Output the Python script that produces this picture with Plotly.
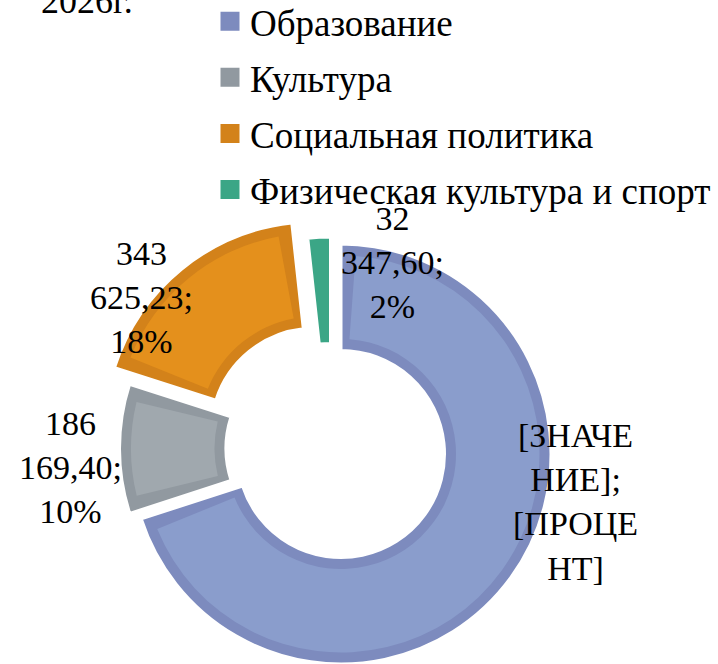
import plotly.graph_objects as go

# ---- data ----
categories = ["Образование", "Культура", "Социальная политика", "Физическая культура и спорт"]
values = [1311660.00, 186169.40, 343625.23, 32347.60]
# the source chart shows Excel placeholder text instead of the value for this slice
label_override = {"Образование": "[ЗНАЧЕ<br>НИЕ];<br>[ПРОЦЕ<br>НТ]"}
title_text = "2026г."

# ---- style / layout ----
dark_colors = ["#7D8BBE", "#9199A0", "#D3821A", "#3BA686"]
light_colors = ["#8A9DCC", "#A0A8AE", "#E4901C", "#3BA686"]
# exploded slice centres (px, from top-left)
slice_centers = [(341, 457), (329.5, 448.5), (314.5, 431.7), (330.5, 447)]
label_pos_px = [(575, 502), (70, 467), (141, 297), (393, 262)]
FONT = "serif"

W, H = 718, 664
R1 = 210.0          # outer radius of the darker ring (geometric)
HOLE1_PX = 103.5    # inner radius of the darker ring
R2 = R1 - 11.5      # lighter fill, inset from the border band
INNER2 = 115.0
TR = "rgba(0,0,0,0)"
total = sum(values)
n = len(values)


def dom(cx, cy, r, rmax=R1):
    cy = min(cy, H - rmax)
    return dict(x=[max(0, (cx - r) / W), min(1, (cx + r) / W)],
                y=[max(0, (H - cy - r) / H), min(1, (H - cy + r) / H)])


fig = go.Figure()

# darker ring, one trace per slice so each slice gets its own (exploded) centre
for k in range(n):
    cols = [dark_colors[j] if j == k else TR for j in range(n)]
    lw = [3 if j == k else 0 for j in range(n)]
    fig.add_trace(go.Pie(
        labels=categories, values=values, sort=False, direction="clockwise", rotation=0,
        hole=HOLE1_PX / R1,
        marker=dict(colors=cols, line=dict(color="white", width=lw)),
        textinfo="none", hoverinfo="label+value+percent",
        showlegend=False, domain=dom(*slice_centers[k], R1),
    ))

# lighter fill inset from the slice edges
sp = 0.0117 * total
v2, keys = [], []
for i, v in enumerate(values):
    if v > 3 * sp:
        v2 += [sp, v - 2 * sp, sp]
        keys += [None, i, None]
    else:
        v2 += [v]
        keys += [None]
lab2 = [f"p{j}" for j in range(len(v2))]
for k in range(n):
    if k not in keys:
        continue
    cols = [light_colors[k] if key == k else TR for key in keys]
    fig.add_trace(go.Pie(
        labels=lab2, values=v2, sort=False, direction="clockwise", rotation=0,
        hole=INNER2 / R2, marker=dict(colors=cols, line=dict(width=0)),
        textinfo="none", hoverinfo="skip", showlegend=False,
        domain=dom(*slice_centers[k], R2),
    ))

# legend entries
for cat, col in zip(categories, dark_colors):
    fig.add_trace(go.Scatter(
        x=[None], y=[None], mode="markers", name=cat, legendgroup=cat,
        marker=dict(symbol="square", size=16, color=col, line=dict(color=col, width=3)),
        showlegend=True, hoverinfo="skip",
    ))


def fmt(v):
    return f"{v:,.2f}".replace(",", " ").replace(".", ",")


annotations = []
for cat, v, (px, py) in zip(categories, values, label_pos_px):
    pct = round(v / total * 100)
    txt = label_override.get(cat, fmt(v).replace(" ", "<br>") + ";<br>" + f"{pct}%")
    annotations.append(dict(
        x=px / W, y=1 - py / H, xref="paper", yref="paper", text=txt, showarrow=False,
        xanchor="center", yanchor="middle", align="center",
        font=dict(family=FONT, size=34, color="black"),
    ))
annotations.append(dict(
    x=86.5 / W, y=1 - 1 / H, xref="paper", yref="paper", text=title_text, showarrow=False,
    xanchor="center", yanchor="middle", font=dict(family=FONT, size=36, color="black"),
))

fig.update_layout(
    width=W, height=H,
    margin=dict(l=0, r=0, t=0, b=0, autoexpand=False),
    paper_bgcolor="white", plot_bgcolor="white",
    xaxis=dict(visible=False), yaxis=dict(visible=False),
    legend=dict(x=210 / W, y=1 + 9.3 / H, xanchor="left", yanchor="top",
                font=dict(family=FONT, size=37, color="black"),
                tracegroupgap=5, bgcolor="rgba(0,0,0,0)", itemwidth=30),
    annotations=annotations,
)

fig.write_html("out.html", config={"displayModeBar": False},
               post_script="document.body.style.margin='0px';")
